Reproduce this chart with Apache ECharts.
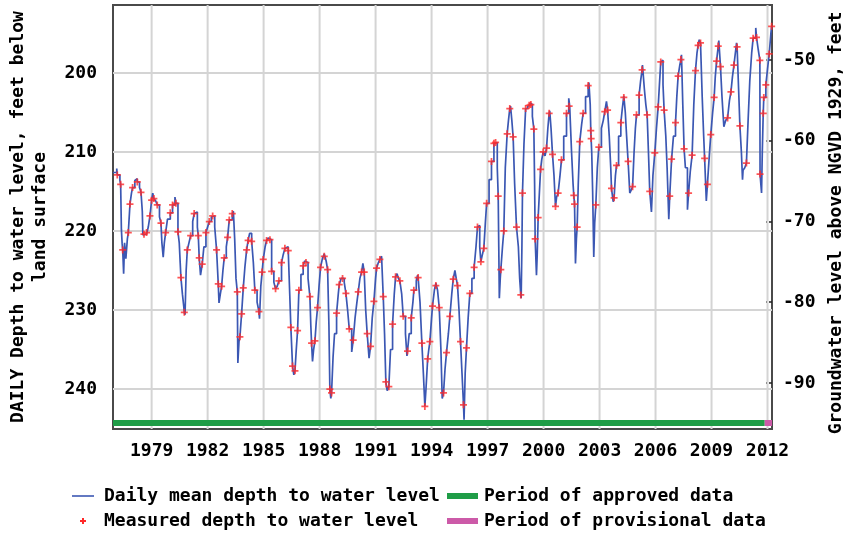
<!DOCTYPE html>
<html>
<head>
<meta charset="utf-8">
<script src="https://cdn.jsdelivr.net/npm/echarts@6/dist/echarts.min.js"></script>
<style>
  html, body { margin: 0; padding: 0; background: #fff; }
  #chart { width: 844px; height: 535px; }
</style>
</head>
<body>
<div id="chart"></div>
<script>
// Tick positions
const yearTicks = [1979, 1982, 1985, 1988, 1991, 1994, 1997, 2000, 2003, 2006, 2009, 2012];
const depthTicks = [200, 210, 220, 230, 240];
const altitudeTicks = [-90, -80, -70, -60, -50];

// Daily mean depth to water level, feet below land surface: [decimal year, depth]
const dailyMean = [
  [1976.93,212.6],[1977.13,212.1],[1977.16,212.9],[1977.30,213.6],[1977.34,214.1],[1977.38,219.8],[1977.42,221.6],[1977.45,222.4],[1977.50,225.4],[1977.55,221.5],[1977.62,223.5],[1977.70,221.0],[1977.75,220.2],[1977.84,216.6],[1977.92,215.2],[1977.98,214.5],
  [1978.10,213.6],[1978.18,213.4],[1978.23,213.8],[1978.35,214.5],[1978.43,215.1],[1978.50,217.5],[1978.53,220.5],[1978.59,220.4],[1978.73,220.2],[1978.82,219.5],[1978.91,218.1],
  [1979.00,216.1],[1979.06,215.2],[1979.12,215.9],[1979.22,216.2],[1979.30,216.7],[1979.42,218.2],[1979.50,219.0],[1979.55,221.5],[1979.62,223.3],[1979.68,221.5],[1979.75,220.2],[1979.85,218.5],
  [1980.00,217.7],[1980.12,216.7],[1980.25,215.7],[1980.30,216.5],[1980.41,220.1],[1980.48,221.5],[1980.53,224.0],[1980.57,225.9],[1980.65,228.0],[1980.72,229.5],[1980.75,230.3],[1980.79,230.6],[1980.85,225.0],[1980.91,222.4],
  [1981.00,221.5],[1981.09,220.6],[1981.20,218.8],[1981.28,217.8],[1981.36,217.6],[1981.45,219.5],[1981.50,220.6],[1981.55,223.4],[1981.62,225.6],[1981.71,224.2],[1981.80,222.0],[1981.91,220.2],
  [1982.00,219.5],[1982.09,218.8],[1982.20,218.2],[1982.27,218.1],[1982.38,219.5],[1982.48,222.4],[1982.57,226.7],[1982.61,229.1],[1982.68,228.0],[1982.75,227.0],[1982.82,225.0],[1982.89,223.4],
  [1983.00,222.0],[1983.07,220.8],[1983.16,218.6],[1983.32,217.8],[1983.38,217.5],[1983.45,221.0],[1983.52,226.0],[1983.59,227.7],[1983.62,236.7],[1983.68,234.0],[1983.73,233.4],[1983.82,230.5],[1983.91,227.2],
  [1984.00,224.5],[1984.09,222.4],[1984.17,221.2],[1984.25,220.3],[1984.36,221.3],[1984.45,224.0],[1984.53,227.5],[1984.65,229.0],[1984.75,230.2],[1984.78,231.1],[1984.85,227.0],[1984.92,225.2],[1984.98,223.6],
  [1985.08,222.0],[1985.16,221.2],[1985.25,220.9],[1985.34,221.1],[1985.43,225.1],[1985.55,226.5],[1985.64,227.3],[1985.73,227.0],[1985.82,226.3],[1985.96,224.0],
  [1986.05,223.0],[1986.14,222.2],[1986.20,222.0],[1986.32,222.5],[1986.40,228.0],[1986.46,232.2],[1986.55,237.1],[1986.62,238.2],[1986.68,237.7],[1986.75,235.0],[1986.82,232.6],[1986.89,227.5],
  [1987.00,225.5],[1987.12,224.4],[1987.20,223.8],[1987.27,224.0],[1987.38,226.0],[1987.48,228.3],[1987.53,232.0],[1987.57,234.2],[1987.62,236.5],[1987.68,235.0],[1987.75,233.9],[1987.82,231.5],[1987.89,229.7],[1987.97,227.0],
  [1988.05,224.6],[1988.15,223.5],[1988.25,222.9],[1988.35,223.8],[1988.43,224.9],[1988.50,232.0],[1988.55,240.0],[1988.60,241.2],[1988.64,240.5],[1988.72,236.0],[1988.80,233.0],[1988.91,230.4],
  [1989.00,228.0],[1989.05,226.8],[1989.15,226.0],[1989.23,226.0],[1989.32,226.5],[1989.41,227.9],[1989.50,230.0],[1989.59,232.4],[1989.72,235.3],[1989.80,233.8],[1989.90,231.0],
  [1990.00,229.0],[1990.07,227.7],[1990.16,226.0],[1990.25,225.2],[1990.32,224.1],[1990.39,225.2],[1990.47,230.0],[1990.55,233.0],[1990.65,236.1],[1990.73,234.6],[1990.82,231.0],[1990.91,228.9],
  [1991.00,226.0],[1991.05,224.7],[1991.15,224.0],[1991.23,223.6],[1991.32,223.2],[1991.41,228.3],[1991.48,233.0],[1991.55,239.1],[1991.62,240.2],[1991.71,239.7],[1991.80,235.0],[1991.91,231.8],
  [1992.00,228.0],[1992.07,225.8],[1992.15,225.4],[1992.22,226.0],[1992.30,226.3],[1992.40,228.0],[1992.48,230.8],[1992.60,233.0],[1992.68,235.8],[1992.71,235.2],[1992.80,233.0],[1992.91,231.0],
  [1993.00,229.0],[1993.05,227.5],[1993.18,226.3],[1993.25,225.6],[1993.28,225.9],[1993.38,229.0],[1993.48,234.2],[1993.56,238.0],[1993.64,242.2],[1993.70,240.0],[1993.79,236.2],[1993.85,235.0],[1993.91,234.0],
  [1994.00,231.0],[1994.05,229.5],[1994.15,227.5],[1994.23,226.6],[1994.32,227.5],[1994.41,229.7],[1994.50,235.0],[1994.57,241.2],[1994.64,240.5],[1994.72,237.5],[1994.80,235.4],[1994.90,233.0],[1994.98,230.8],
  [1995.08,228.0],[1995.16,226.1],[1995.25,225.0],[1995.32,226.0],[1995.39,226.9],[1995.47,230.0],[1995.55,234.0],[1995.63,238.0],[1995.71,242.0],[1995.74,243.9],[1995.80,238.0],[1995.87,234.8],[1995.96,231.0],
  [1996.05,227.9],[1996.16,226.0],[1996.28,224.6],[1996.38,222.0],[1996.46,219.5],[1996.52,219.3],[1996.58,222.0],[1996.64,223.9],[1996.72,223.0],[1996.80,222.2],[1996.88,219.0],[1996.95,216.5],
  [1997.08,213.5],[1997.21,211.2],[1997.34,208.9],[1997.41,208.7],[1997.43,208.8],[1997.52,212.0],[1997.57,215.6],[1997.60,222.0],[1997.63,228.5],[1997.68,226.0],[1997.71,224.9],[1997.80,222.0],[1997.87,220.0],[1997.95,212.0],
  [1998.05,207.7],[1998.12,206.0],[1998.19,204.5],[1998.23,204.2],[1998.30,206.0],[1998.37,208.1],[1998.45,214.0],[1998.55,219.5],[1998.65,222.0],[1998.72,226.0],[1998.78,228.1],[1998.80,228.5],[1998.84,222.0],[1998.87,215.2],[1998.95,209.0],
  [1999.04,204.5],[1999.15,204.2],[1999.23,204.1],[1999.28,203.8],[1999.32,204.0],[1999.40,205.5],[1999.48,207.1],[1999.52,214.0],[1999.55,221.0],[1999.62,225.6],[1999.66,223.0],[1999.71,218.3],[1999.78,215.0],[1999.84,212.2],[1999.90,211.0],[1999.98,210.0],
  [2000.08,210.5],[2000.16,209.5],[2000.23,207.0],[2000.30,205.1],[2000.33,204.8],[2000.40,207.0],[2000.48,210.3],[2000.56,213.0],[2000.64,216.9],[2000.70,215.7],[2000.78,215.2],[2000.88,213.0],[2000.96,211.0],
  [2001.08,208.0],[2001.23,205.1],[2001.35,203.2],[2001.40,204.2],[2001.50,210.0],[2001.58,214.0],[2001.62,215.5],[2001.66,216.6],[2001.71,224.1],[2001.76,221.0],[2001.80,219.5],[2001.86,214.0],[2001.94,208.7],
  [2002.04,206.5],[2002.12,205.1],[2002.25,203.0],[2002.39,201.6],[2002.43,201.2],[2002.50,204.0],[2002.53,207.3],[2002.58,210.0],[2002.63,215.0],[2002.69,223.3],[2002.74,219.0],[2002.80,216.7],[2002.88,212.0],[2002.96,209.4],
  [2003.10,207.0],[2003.20,206.0],[2003.28,204.9],[2003.37,203.6],[2003.43,204.7],[2003.52,208.0],[2003.60,212.0],[2003.64,214.6],[2003.73,216.3],[2003.78,215.8],[2003.85,213.0],[2003.91,211.7],
  [2004.02,208.0],[2004.14,206.3],[2004.22,204.5],[2004.30,202.9],[2004.38,205.0],[2004.45,208.0],[2004.53,211.2],[2004.62,215.2],[2004.70,214.8],[2004.77,214.4],[2004.85,210.0],[2004.92,207.0],[2004.98,205.3],
  [2005.12,202.8],[2005.20,201.0],[2005.28,199.6],[2005.30,199.0],[2005.40,202.0],[2005.48,204.0],[2005.55,205.3],[2005.62,210.0],[2005.69,215.0],[2005.78,217.6],[2005.86,213.0],[2005.96,210.1],
  [2006.05,207.0],[2006.14,204.3],[2006.22,201.0],[2006.28,198.6],[2006.32,198.4],[2006.40,201.5],[2006.46,204.7],[2006.55,208.0],[2006.62,212.0],[2006.71,218.5],[2006.76,215.6],[2006.86,210.9],[2006.96,208.0],
  [2007.07,206.3],[2007.14,203.0],[2007.21,200.4],[2007.30,199.0],[2007.36,198.3],[2007.39,197.7],[2007.46,204.0],[2007.53,209.6],[2007.60,212.0],[2007.71,217.3],[2007.77,215.2],[2007.86,212.5],[2007.96,210.4],
  [2008.05,204.0],[2008.14,199.7],[2008.22,197.5],[2008.28,196.5],[2008.34,195.8],[2008.41,196.2],[2008.50,203.0],[2008.58,208.0],[2008.63,210.8],[2008.72,216.2],[2008.78,214.1],[2008.88,210.5],[2008.96,207.8],
  [2009.06,205.0],[2009.14,203.1],[2009.20,200.5],[2009.27,198.5],[2009.36,196.6],[2009.39,195.9],[2009.48,199.2],[2009.56,203.0],[2009.66,206.8],[2009.76,206.0],[2009.86,205.7],[2009.96,203.5],
  [2010.04,202.4],[2010.12,200.5],[2010.20,199.0],[2010.30,197.0],[2010.34,196.2],[2010.37,196.7],[2010.45,202.0],[2010.52,206.7],[2010.60,210.0],[2010.66,213.5],[2010.69,212.3],[2010.78,212.0],[2010.87,211.4],[2010.96,206.0],
  [2011.05,201.0],[2011.15,197.5],[2011.23,195.6],[2011.37,194.3],[2011.41,195.5],[2011.50,197.0],[2011.59,198.4],[2011.60,212.8],[2011.68,215.2],[2011.72,210.0],[2011.77,205.1],[2011.80,203.1],[2011.91,201.5],
  [2012.00,199.5],[2012.09,197.6],[2012.18,195.0],[2012.22,194.1]
];

// Field measurements of depth to water level: [decimal year, depth]
const measured = [
  [1977.16,212.9],[1977.34,214.1],[1977.45,222.4],[1977.75,220.2],[1977.84,216.6],[1977.98,214.5],[1978.23,213.8],[1978.43,215.1],[1978.59,220.4],[1978.73,220.2],[1978.91,218.1],
  [1979.00,216.1],[1979.12,215.9],[1979.30,216.7],[1979.50,219.0],[1979.75,220.2],[1980.00,217.7],[1980.12,216.7],[1980.30,216.5],[1980.41,220.1],[1980.57,225.9],[1980.75,230.3],[1980.91,222.4],
  [1981.09,220.6],[1981.28,217.8],[1981.50,220.6],[1981.55,223.4],[1981.71,224.2],[1981.91,220.2],[1982.09,218.8],[1982.27,218.1],[1982.48,222.4],[1982.57,226.7],[1982.75,227.0],[1982.89,223.4],
  [1983.07,220.8],[1983.16,218.6],[1983.32,217.8],[1983.59,227.7],[1983.73,233.4],[1983.82,230.5],[1983.91,227.2],[1984.09,222.4],[1984.17,221.2],[1984.36,221.3],[1984.53,227.5],[1984.75,230.2],[1984.92,225.2],[1984.98,223.6],
  [1985.16,221.2],[1985.34,221.1],[1985.43,225.1],[1985.64,227.3],[1985.82,226.3],[1985.96,224.0],[1986.14,222.2],[1986.32,222.5],[1986.46,232.2],[1986.55,237.1],[1986.68,237.7],[1986.82,232.6],[1986.89,227.5],
  [1987.12,224.4],[1987.27,224.0],[1987.48,228.3],[1987.57,234.2],[1987.75,233.9],[1987.89,229.7],[1988.05,224.6],[1988.25,223.2],[1988.43,224.9],[1988.55,240.0],[1988.64,240.5],[1988.91,230.4],
  [1989.05,226.8],[1989.23,226.0],[1989.41,227.9],[1989.59,232.4],[1989.80,233.8],[1990.07,227.7],[1990.25,225.2],[1990.39,225.2],[1990.55,233.0],[1990.73,234.6],[1990.91,228.9],
  [1991.05,224.7],[1991.23,223.6],[1991.41,228.3],[1991.55,239.1],[1991.71,239.7],[1991.91,231.8],[1992.07,225.8],[1992.30,226.3],[1992.48,230.8],[1992.71,235.2],[1992.91,231.0],
  [1993.05,227.5],[1993.28,225.9],[1993.48,234.2],[1993.64,242.2],[1993.79,236.2],[1993.91,234.0],[1994.05,229.5],[1994.23,226.9],[1994.41,229.7],[1994.64,240.5],[1994.80,235.4],[1994.98,230.8],
  [1995.16,226.1],[1995.39,226.9],[1995.55,234.0],[1995.71,242.0],[1995.87,234.8],[1996.05,227.9],[1996.28,224.6],[1996.46,219.5],[1996.64,223.9],[1996.80,222.2],[1996.95,216.5],
  [1997.21,211.2],[1997.34,208.9],[1997.43,208.8],[1997.57,215.6],[1997.71,224.9],[1997.87,220.0],[1998.05,207.7],[1998.19,204.5],[1998.37,208.1],[1998.55,219.5],[1998.78,228.1],[1998.87,215.2],
  [1999.04,204.5],[1999.23,204.1],[1999.32,204.0],[1999.48,207.1],[1999.55,221.0],[1999.71,218.3],[1999.84,212.2],[1999.98,210.0],[2000.16,209.5],[2000.30,205.1],[2000.48,210.3],[2000.64,216.9],[2000.78,215.2],[2000.96,211.0],
  [2001.23,205.1],[2001.37,204.2],[2001.62,215.5],[2001.66,216.6],[2001.80,219.5],[2001.94,208.7],[2002.12,205.1],[2002.39,201.6],[2002.53,207.3],[2002.55,208.3],[2002.80,216.7],[2002.96,209.4],
  [2003.28,204.9],[2003.43,204.7],[2003.64,214.6],[2003.78,215.8],[2003.91,211.7],[2004.14,206.3],[2004.30,203.1],[2004.53,211.2],[2004.77,214.4],[2004.98,205.3],
  [2005.12,202.8],[2005.28,199.6],[2005.55,205.3],[2005.69,215.0],[2005.96,210.1],[2006.14,204.3],[2006.28,198.6],[2006.46,204.7],[2006.76,215.6],[2006.86,210.9],
  [2007.07,206.3],[2007.21,200.4],[2007.36,198.3],[2007.53,209.6],[2007.77,215.2],[2007.96,210.4],[2008.14,199.7],[2008.28,196.5],[2008.41,196.2],[2008.63,210.8],[2008.78,214.1],[2008.96,207.8],
  [2009.14,203.1],[2009.27,198.5],[2009.36,196.6],[2009.48,199.2],[2009.86,205.7],[2010.04,202.4],[2010.20,199.0],[2010.37,196.7],[2010.52,206.7],[2010.87,211.4],
  [2011.23,195.6],[2011.41,195.5],[2011.59,198.4],[2011.60,212.8],[2011.77,205.1],[2011.80,203.1],[2011.91,201.5],[2012.09,197.6],[2012.22,194.1]
];

// Data-status periods drawn as a band along the bottom of the plot
const bandDepth = 244.3;
const approvedPeriod = [1976.93, 2011.85];
const provisionalPeriod = [2011.85, 2012.24];

// Axis extents
const X_MIN = 1976.93, X_MAX = 2012.24;
const DEPTH_MIN = 191.4, DEPTH_MAX = 245.06;

const FONT = 'DejaVu Sans Mono';
const textStyle = { fontFamily: FONT, fontWeight: 'bold', fontSize: 18, color: '#000' };
const BLUE = '#3b57b3';
const RED = '#ff2a2a';
const GREEN = '#1f9d47';
const PINK = '#cc5aa8';
const GRID_GREY = '#d4d4d4';
const PLUS = 'path://M3,0H5V3H8V5H5V8H3V5H0V3H3Z';

// Grid lines at the labelled years and depths, drawn as plain line series
function gridLine(points) {
  return {
    type: 'line', silent: true, symbol: 'none', z: 0, data: points,
    lineStyle: { color: GRID_GREY, width: 2 }, emphasis: { disabled: true }
  };
}
const gridSeries = yearTicks.map(t => gridLine([[t, DEPTH_MIN], [t, DEPTH_MAX]]))
  .concat(depthTicks.map(d => gridLine([[X_MIN, d], [X_MAX, d]])));

const chart = echarts.init(document.getElementById('chart'), null, { renderer: 'canvas' });

chart.setOption({
  animation: false,
  backgroundColor: '#fff',
  grid: {
    left: 113, top: 5, width: 659, height: 424,
    show: true, borderColor: '#4a4a4a', borderWidth: 2,
    containLabel: false, outerBoundsMode: 'none'
  },
  xAxis: {
    type: 'value', min: X_MIN, max: X_MAX,
    axisLine: { show: false },
    axisTick: { show: false, customValues: yearTicks },
    axisLabel: Object.assign({ customValues: yearTicks, margin: 13, formatter: v => String(v) }, textStyle),
    splitLine: { show: false }
  },
  yAxis: [
    {
      type: 'value', inverse: true, min: DEPTH_MIN, max: DEPTH_MAX, position: 'left',
      axisLine: { show: false },
      axisTick: { show: false, customValues: depthTicks },
      axisLabel: Object.assign({ customValues: depthTicks, margin: 16 }, textStyle),
      splitLine: { show: false }
    },
    {
      type: 'value', min: -95.7, max: -43.19, position: 'right',
      axisLine: { show: false },
      axisTick: { show: true, inside: true, length: 6, customValues: altitudeTicks,
                  lineStyle: { color: '#222', width: 1.5, type: [3, 2] } },
      axisLabel: Object.assign({ customValues: altitudeTicks, margin: 11 }, textStyle),
      splitLine: { show: false }
    }
  ],
  series: gridSeries.concat([
    {
      name: 'Period of approved data', type: 'line', silent: true, symbol: 'none', z: 1,
      data: approvedPeriod.map(t => [t, bandDepth]),
      lineStyle: { color: GREEN, width: 6, cap: 'butt' }
    },
    {
      name: 'Period of provisional data', type: 'line', silent: true, symbol: 'none', z: 1,
      data: provisionalPeriod.map(t => [t, bandDepth]),
      lineStyle: { color: PINK, width: 6, cap: 'butt' }
    },
    {
      name: 'Daily mean depth to water level', type: 'line', step: 'end', symbol: 'none', z: 3,
      data: dailyMean,
      lineStyle: { color: BLUE, width: 1.7 }
    },
    {
      name: 'Measured depth to water level', type: 'scatter', z: 4,
      symbol: PLUS, symbolSize: 7,
      data: measured,
      itemStyle: { color: RED }
    }
  ]),
  graphic: [
    { type: 'text', x: 29, y: 217, rotation: Math.PI / 2,
      style: { text: 'DAILY Depth to water level, feet below\nland surface', align: 'center', verticalAlign: 'middle',
               font: 'bold 18px "DejaVu Sans Mono"', lineHeight: 22, fill: '#000' } },
    { type: 'text', x: 836, y: 223, rotation: Math.PI / 2,
      style: { text: 'Groundwater level above NGVD 1929, feet', align: 'center', verticalAlign: 'middle',
               font: 'bold 18px "DejaVu Sans Mono"', fill: '#000' } },
    // legend
    { type: 'line', shape: { x1: 72, y1: 496, x2: 94, y2: 496 }, style: { stroke: BLUE, lineWidth: 1.6 } },
    { type: 'text', x: 104, y: 496, style: { text: 'Daily mean depth to water level', verticalAlign: 'middle', font: 'bold 18px "DejaVu Sans Mono"', fill: '#000' } },
    { type: 'rect', shape: { x: 80, y: 520, width: 6, height: 2 }, style: { fill: RED } },
    { type: 'rect', shape: { x: 82, y: 518, width: 2, height: 6 }, style: { fill: RED } },
    { type: 'text', x: 104, y: 521, style: { text: 'Measured depth to water level', verticalAlign: 'middle', font: 'bold 18px "DejaVu Sans Mono"', fill: '#000' } },
    { type: 'rect', shape: { x: 447, y: 493, width: 31, height: 6 }, style: { fill: GREEN } },
    { type: 'text', x: 484, y: 496, style: { text: 'Period of approved data', verticalAlign: 'middle', font: 'bold 18px "DejaVu Sans Mono"', fill: '#000' } },
    { type: 'rect', shape: { x: 447, y: 518, width: 31, height: 6 }, style: { fill: PINK } },
    { type: 'text', x: 484, y: 521, style: { text: 'Period of provisional data', verticalAlign: 'middle', font: 'bold 18px "DejaVu Sans Mono"', fill: '#000' } }
  ]
});
</script>
</body>
</html>
